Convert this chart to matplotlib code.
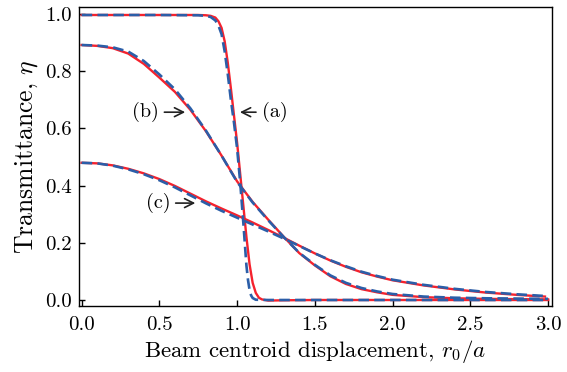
import matplotlib
matplotlib.use("Agg")
import matplotlib.pyplot as plt

plt.rcParams['font.family'] = ['cmr10', 'DejaVu Serif']
plt.rcParams['mathtext.fontset'] = 'cm'
plt.rcParams['axes.formatter.use_mathtext'] = True

# Curve (a)
a_red_x = [0.0, 0.5, 0.75, 0.8, 0.83, 0.86, 0.88, 0.9, 0.92, 0.94, 0.96, 0.98, 1.0, 1.02, 1.04, 1.06, 1.08, 1.1, 1.12, 1.14, 1.16, 1.2, 1.3, 1.5, 2.0, 2.5, 3.0]
a_red_y = [0.997, 0.997, 0.997, 0.996, 0.994, 0.988, 0.975, 0.952, 0.905, 0.83, 0.74, 0.645, 0.55, 0.44, 0.33, 0.22, 0.125, 0.06, 0.025, 0.008, 0.002, -0.002, -0.001, 0.0, 0.0, 0.0, 0.0]
a_blue_x = [0.0, 0.5, 0.75, 0.8, 0.83, 0.86, 0.88, 0.9, 0.92, 0.94, 0.96, 0.98, 1.0, 1.02, 1.04, 1.06, 1.07, 1.08, 1.09, 1.1, 1.12, 1.2, 1.5, 2.0, 2.5, 3.0]
a_blue_y = [0.997, 0.997, 0.996, 0.994, 0.99, 0.978, 0.96, 0.93, 0.87, 0.79, 0.70, 0.62, 0.53, 0.41, 0.27, 0.12, 0.07, 0.035, 0.016, 0.007, 0.001, 0.0, 0.0, 0.0, 0.0, 0.0]

# Curve (b)
b_x = [0.0, 0.1, 0.2, 0.3, 0.4, 0.5, 0.6, 0.7, 0.8, 0.9, 1.0, 1.1, 1.2, 1.3, 1.4, 1.5, 1.6, 1.7, 1.8, 1.9, 2.0, 2.2, 2.4, 2.6, 2.8, 3.0]
b_red_y = [0.892, 0.889, 0.881, 0.862, 0.826, 0.778, 0.728, 0.665, 0.590, 0.505, 0.415, 0.343, 0.281, 0.221, 0.164, 0.121, 0.083, 0.056, 0.038, 0.027, 0.018, 0.010, 0.006, 0.004, 0.003, 0.002]
b_blue_y = [0.892, 0.890, 0.884, 0.869, 0.836, 0.789, 0.737, 0.670, 0.592, 0.505, 0.413, 0.341, 0.279, 0.220, 0.165, 0.123, 0.086, 0.060, 0.042, 0.030, 0.021, 0.012, 0.008, 0.006, 0.005, 0.004]

# Curve (c)
c_x = [0.0, 0.1, 0.2, 0.3, 0.4, 0.5, 0.6, 0.7, 0.8, 0.9, 1.0, 1.1, 1.2, 1.3, 1.4, 1.5, 1.6, 1.7, 1.8, 1.9, 2.0, 2.2, 2.4, 2.6, 2.8, 2.98]
c_red_y = [0.480, 0.478, 0.471, 0.459, 0.443, 0.423, 0.399, 0.372, 0.345, 0.320, 0.296, 0.271, 0.245, 0.218, 0.190, 0.163, 0.138, 0.116, 0.097, 0.082, 0.069, 0.051, 0.037, 0.026, 0.018, 0.012]
c_blue_y = [0.480, 0.478, 0.470, 0.457, 0.440, 0.419, 0.394, 0.366, 0.338, 0.312, 0.288, 0.264, 0.240, 0.215, 0.189, 0.163, 0.139, 0.118, 0.099, 0.084, 0.071, 0.053, 0.039, 0.028, 0.020, 0.014]

xticks = [0.0, 0.5, 1.0, 1.5, 2.0, 2.5, 3.0]
yticks = [0.0, 0.2, 0.4, 0.6, 0.8, 1.0]

RED = '#f5222d'
BLUE = '#2b5ea8'

fig = plt.figure(figsize=(5.67, 3.72), dpi=100)
ax = fig.add_axes([0.1393, 0.1774, 0.8342, 0.8038])

for rx, ry, bx, by in [(a_red_x, a_red_y, a_blue_x, a_blue_y),
                       (b_x, b_red_y, b_x, b_blue_y),
                       (c_x, c_red_y, c_x, c_blue_y)]:
    ax.plot(rx, ry, color=RED, lw=1.7, zorder=2, solid_joinstyle='round')
    ax.plot(bx, by, color=BLUE, lw=1.9, dashes=(4, 2), zorder=3)

ax.set_xlim(-0.017, 3.025)
ax.set_ylim(-0.021, 1.025)
ax.set_xticks(xticks)
ax.set_yticks(yticks)
ax.set_xticklabels([f"{t:.1f}" for t in xticks])
ax.set_yticklabels([f"{t:.1f}" for t in yticks])
ax.tick_params(direction='in', length=4, width=1, labelsize=15)
ax.tick_params(axis='x', pad=7)
ax.tick_params(axis='y', pad=5)
for s in ax.spines.values():
    s.set_linewidth(1.0)

ax.set_xlabel("Beam centroid displacement, $r_0/a$", fontsize=16.5, labelpad=3)
ax.set_ylabel("Transmittance, $\\eta$", fontsize=18.5, labelpad=4)

arrow = dict(arrowstyle='->', color='#222222', lw=1.2, mutation_scale=16)
ax.annotate("(a)", xy=(1.0, 0.657), xytext=(1.24, 0.657), fontsize=14.5,
            ha='center', va='center', arrowprops=arrow)
ax.annotate("(b)", xy=(0.684, 0.657), xytext=(0.41, 0.657), fontsize=14.5,
            ha='center', va='center', arrowprops=arrow)
ax.annotate("(c)", xy=(0.749, 0.339), xytext=(0.49, 0.339), fontsize=14.5,
            ha='center', va='center', arrowprops=arrow)

fig.savefig("out.png", dpi=100)
